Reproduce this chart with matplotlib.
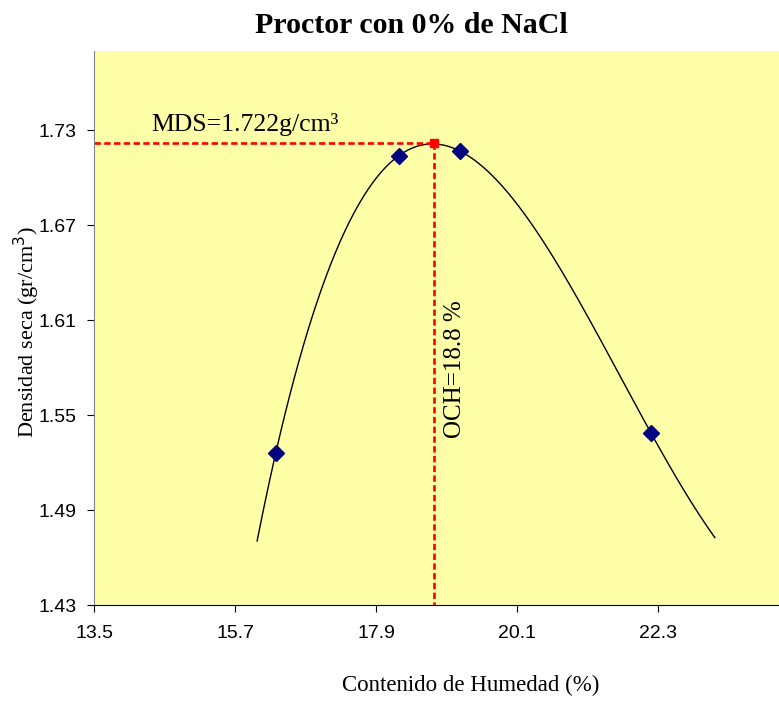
import matplotlib; matplotlib.use("Agg")
import matplotlib.pyplot as plt
import numpy as np

# measured points (humedad %, densidad seca)
humedad = [16.33, 18.25, 19.2, 22.18]
densidad = [1.526, 1.714, 1.717, 1.539]
och, mds = 18.8, 1.722
curva_x0, curva_x1 = 16.04, 23.18
xticks = [13.5, 15.7, 17.9, 20.1, 22.3]
yticks = [1.43, 1.49, 1.55, 1.61, 1.67, 1.73]

fig = plt.figure(figsize=(7.79, 7.02), dpi=100)
ax = fig.add_axes([0.121, 0.138, 0.879, 0.789])
ax.set_facecolor("#FFFFA8")

# trendline, polynomial fit like the spreadsheet one
coef = np.polyfit(humedad, densidad, 3)
xs = np.linspace(curva_x0, curva_x1, 300)
ax.plot(xs, np.polyval(coef, xs), color="black", lw=1)

ax.plot([13.5, och], [mds, mds], color="red", ls="--", lw=1.9, dashes=(2.4, 1.3))
ax.plot([och, och], [mds, 1.43], color="red", ls="--", lw=1.9, dashes=(2.4, 1.3))
ax.plot(humedad, densidad, ls="none", marker="D", color="#000080", ms=8)
ax.plot([och], [mds], ls="none", marker="s", color="red", ms=6)

ax.set_xlim(13.5, 24.18); ax.set_ylim(1.43, 1.78)
ax.set_xticks(xticks); ax.set_yticks(yticks)
ax.set_xticklabels([f"{v:.1f}" for v in xticks], family="Liberation Sans", fontsize=14)
ax.set_yticklabels([f"{v:.2f}" for v in yticks], family="Liberation Sans", fontsize=14)
ax.tick_params(direction="out", length=5, color="black")
ax.tick_params(axis="x", pad=9)
ax.tick_params(axis="y", pad=8)
for s in ["top", "right"]:
    ax.spines[s].set_visible(False)
ax.spines["left"].set_color("#808080")

ax.text(14.395, 1.7294, "MDS=1.722g/cm³", family="Liberation Serif", fontsize=18.5,
        va="baseline")
ax.text(19.13, 1.5794, "OCH=18.8 %", family="Liberation Serif", fontsize=18, rotation=90,
        ha="center", va="center")

fig.text(0.5276, 0.964, "Proctor con 0% de NaCl", family="Liberation Serif", fontsize=21.5,
         fontweight="bold", ha="center", va="center")
fig.text(0.604, 0.023, "Contenido de Humedad (%)", family="Liberation Serif", fontsize=16.5,
         ha="center", va="center")
fig.text(0.034, 0.527, "Densidad seca (gr/cm$^3$)", family="Liberation Serif", fontsize=16,
         rotation=90, ha="center", va="center")
fig.savefig("out.png", dpi=100)
